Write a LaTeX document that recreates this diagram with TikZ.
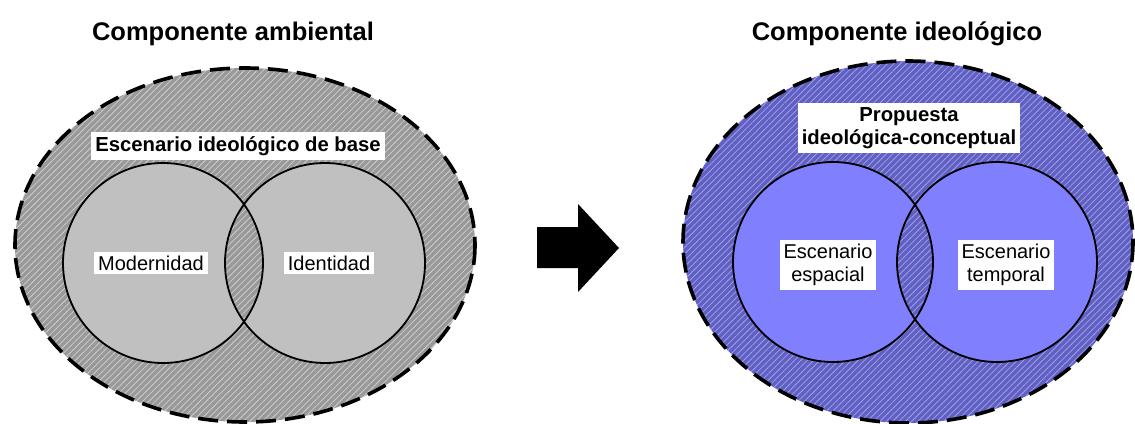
\documentclass[tikz,border=0pt]{standalone}
\usepackage{fontspec}
\setmainfont{Liberation Sans}
\usetikzlibrary{patterns.meta}
\definecolor{grayfield}{HTML}{999999}
\definecolor{grayhatch}{HTML}{CDCDCD}
\definecolor{graydisc}{HTML}{C0C0C0}
\definecolor{bluefield}{HTML}{6060C4}
\definecolor{bluehatch}{HTML}{A0A0E6}
\definecolor{bluedisc}{HTML}{8080FF}
\tikzset{
  hatchgray/.style={fill=grayfield, postaction={pattern={Lines[angle=45,distance=4.5pt,line width=0.8pt]}, pattern color=grayhatch}},
  hatchblue/.style={fill=bluefield, postaction={pattern={Lines[angle=45,distance=4.5pt,line width=0.8pt]}, pattern color=bluehatch}},
  rim/.style={draw=black, line width=3.6pt, dash pattern=on 20pt off 9pt},
  ring/.style={draw=black, line width=1.8pt},
  title/.style={font=\fontsize{25.5}{30}\selectfont\bfseries, inner sep=0pt},
  tag/.style={fill=white, font=\fontsize{20}{23}\selectfont, inner sep=4pt, align=center},
  boldtag/.style={fill=white, font=\fontsize{20.3}{23}\selectfont\bfseries, inner sep=4pt, align=center},
}
\begin{document}
\begin{tikzpicture}[x=1pt,y=-1pt]
\useasboundingbox (0,0) rectangle (1135,423);

% ---- left: environmental component ----
\path[hatchgray] (245,245) ellipse [x radius=230, y radius=177];
\fill[graydisc] (163,263) circle [radius=100];
\fill[graydisc] (325,263) circle [radius=100];
\begin{scope}
  \clip (163,263) circle [radius=100];
  \path[hatchgray] (325,263) circle [radius=100];
\end{scope}
\draw[ring] (163,263) circle [radius=100];
\draw[ring] (325,263) circle [radius=100];
\draw[rim] (245,245) ellipse [x radius=230, y radius=177];

\node[title] (tA) at (233,34) {Componente ambiental};
\node[boldtag] (base) at (238,146) {Escenario ideológico de base};
\node[tag] (mod) at (151,263) {Modernidad};
\node[tag] (ide) at (329,263) {Identidad};

% ---- right: ideological component ----
\path[hatchblue] (908,242) ellipse [x radius=225, y radius=181];
\fill[bluedisc] (833,262) circle [radius=100];
\fill[bluedisc] (997,262) circle [radius=100];
\begin{scope}
  \clip (833,262) circle [radius=100];
  \path[hatchblue] (997,262) circle [radius=100];
\end{scope}
\draw[ring] (833,262) circle [radius=100];
\draw[ring] (997,262) circle [radius=100];
\draw[rim] (908,242) ellipse [x radius=225, y radius=181];

\node[title] (tB) at (897,34) {Componente ideológico};
\node[boldtag] (prop) at (909,128) {Propuesta\\ideológica-conceptual};
\node[tag] (esp) at (828,265) {Escenario\\espacial};
\node[tag] (tem) at (1006,265) {Escenario\\temporal};

% ---- block arrow between the two components ----
\fill[black] (537,227) -- (578,227) -- (578,204) -- (619,248)
  -- (578,292) -- (578,268) -- (537,268) -- cycle;
\end{tikzpicture}
\end{document}
